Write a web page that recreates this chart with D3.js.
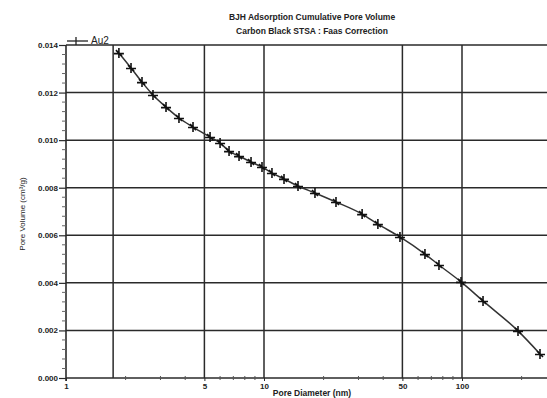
<!DOCTYPE html>
<html><head><meta charset="utf-8">
<script src="https://cdn.jsdelivr.net/npm/d3@7"></script>
<style>html,body{margin:0;padding:0;background:#fff;}svg{display:block;font-family:"Liberation Sans",Arial,sans-serif;}</style>
</head><body>
<script>
const titleLines = ["BJH Adsorption Cumulative Pore Volume", "Carbon Black STSA : Faas Correction"];
const seriesName = "Au2";
const poreDiameter = [1.85, 2.13, 2.42, 2.75, 3.20, 3.72, 4.38, 5.34, 6.00, 6.66, 7.48, 8.60, 9.77, 10.97, 12.62, 14.85, 18.09, 23.1, 31.3, 37.6, 48.6, 65.0, 76.5, 98.9, 127.7, 191.8, 247.7];
const poreVolume  = [0.01366, 0.01303, 0.01244, 0.01190, 0.01139, 0.01093, 0.01055, 0.01013, 0.00988, 0.00954, 0.00933, 0.00908, 0.00887, 0.00862, 0.00837, 0.00807, 0.00778, 0.00740, 0.00689, 0.00647, 0.00593, 0.00521, 0.00475, 0.00404, 0.00324, 0.00198, 0.00101];
const yTicks = [0.000, 0.002, 0.004, 0.006, 0.008, 0.010, 0.012, 0.014];
const yTickLabels = ["0.000", "0.002", "0.004", "0.006", "0.008", "0.010", "0.012", "0.014"];
const xTicks = [1, 5, 10, 50, 100];
const xTickLabels = ["1", "5", "10", "50", "100"];
const xGrid = [1.73, 5, 10, 50, 100];
const xMinor = [2, 3, 4, 6, 7, 8, 9, 20, 30, 40, 60, 70, 80, 90, 200];
const xLabel = "Pore Diameter (nm)";
const yLabel = "Pore Volume (cm³/g)";

(function () {
const W = 547, H = 398;
const svg = d3.select("body").append("svg").attr("width", W).attr("height", H);
svg.append("rect").attr("width", W).attr("height", H).attr("fill", "#fff");

const pL = 66, pR = 547, pT = 45, pB = 378;
const x = d3.scaleLog().domain([1, 100]).range([66, 462]);
const y = d3.scaleLinear().domain([0, 0.014]).range([pB, pT]);
const ink = "#2a2a2a";
const txt = "#222";

svg.append("g").selectAll("line").data(yTicks).join("line")
  .attr("x1", pL).attr("x2", pR).attr("y1", d => y(d)).attr("y2", d => y(d))
  .attr("stroke", ink).attr("stroke-width", 1.5);
svg.append("g").selectAll("line").data(xGrid).join("line")
  .attr("x1", d => x(d)).attr("x2", d => x(d)).attr("y1", pT).attr("y2", pB)
  .attr("stroke", ink).attr("stroke-width", 1.5);
svg.append("line").attr("x1", pL).attr("x2", pL).attr("y1", pT).attr("y2", pB + 3)
  .attr("stroke", ink).attr("stroke-width", 1.6);

const yAxis = d3.axisLeft(y).tickValues(yTicks).tickSize(7).tickFormat((d, i) => yTickLabels[i]);
const gy = svg.append("g").attr("transform", `translate(${pL},0)`).call(yAxis);
gy.attr("font-family", null);
gy.select(".domain").remove();
gy.selectAll(".tick line").attr("stroke", ink).attr("stroke-width", 1.2);
gy.selectAll(".tick text").attr("font-size", 8).attr("font-weight", "bold").attr("fill", txt).attr("x", -8);
const yMinor = d3.range(0, 0.01401, 0.0004).filter(v => Math.abs(v / 0.002 - Math.round(v / 0.002)) > 0.01);
svg.append("g").selectAll("line").data(yMinor).join("line")
  .attr("x1", pL - 4).attr("x2", pL).attr("y1", d => y(d)).attr("y2", d => y(d))
  .attr("stroke", "#666").attr("stroke-width", 1);

const xAxis = d3.axisBottom(x).tickValues(xTicks).tickSize(3).tickFormat((d, i) => xTickLabels[i]);
const gx = svg.append("g").attr("transform", `translate(0,${pB})`).call(xAxis);
gx.attr("font-family", null);
gx.select(".domain").remove();
gx.selectAll(".tick line").attr("stroke", ink);
gx.selectAll(".tick text").attr("font-size", 8).attr("font-weight", "bold").attr("fill", txt).attr("y", 5);
svg.append("g").selectAll("line").data(xMinor).join("line")
  .attr("x1", d => x(d)).attr("x2", d => x(d)).attr("y1", pB - 2).attr("y2", pB + 2)
  .attr("stroke", "#555").attr("stroke-width", 1);

const pts = poreDiameter.map((d, i) => [d, poreVolume[i]]);
svg.append("path").datum(pts)
  .attr("d", d3.line().x(d => x(d[0])).y(d => y(d[1])).curve(d3.curveMonotoneX))
  .attr("fill", "none").attr("stroke", "#333").attr("stroke-width", 1.5);
const mk = svg.append("g").selectAll("g").data(pts).join("g")
  .attr("transform", d => `translate(${x(d[0])},${y(d[1])})`);
mk.append("path").attr("d", "M-5,0.5H5M0,-5V5M-3,-3L3,3")
  .attr("stroke", "#111").attr("stroke-width", 1.6).attr("fill", "none");

svg.append("line").attr("x1", 67).attr("x2", 88).attr("y1", 41).attr("y2", 41).attr("stroke", "#222").attr("stroke-width", 1.3);
svg.append("path").attr("transform", "translate(76,41)").attr("d", "M0,-4V4").attr("stroke", "#222").attr("stroke-width", 1.3);
svg.append("text").attr("x", 91).attr("y", 44).attr("font-size", 10).attr("fill", txt).text(seriesName);

svg.append("g").selectAll("text").data(titleLines).join("text")
  .attr("x", 312).attr("y", (d, i) => 20 + i * 14).attr("text-anchor", "middle")
  .attr("font-size", 8.5).attr("font-weight", "bold").attr("fill", txt).text(d => d);

svg.append("text").attr("x", 312).attr("y", 396).attr("text-anchor", "middle")
  .attr("font-size", 8.5).attr("font-weight", "bold").attr("fill", txt).text(xLabel);
svg.append("text").attr("transform", "translate(25,214) rotate(-90)").attr("text-anchor", "middle")
  .attr("font-size", 8).attr("fill", txt).text(yLabel);
})();
</script>
</body></html>
